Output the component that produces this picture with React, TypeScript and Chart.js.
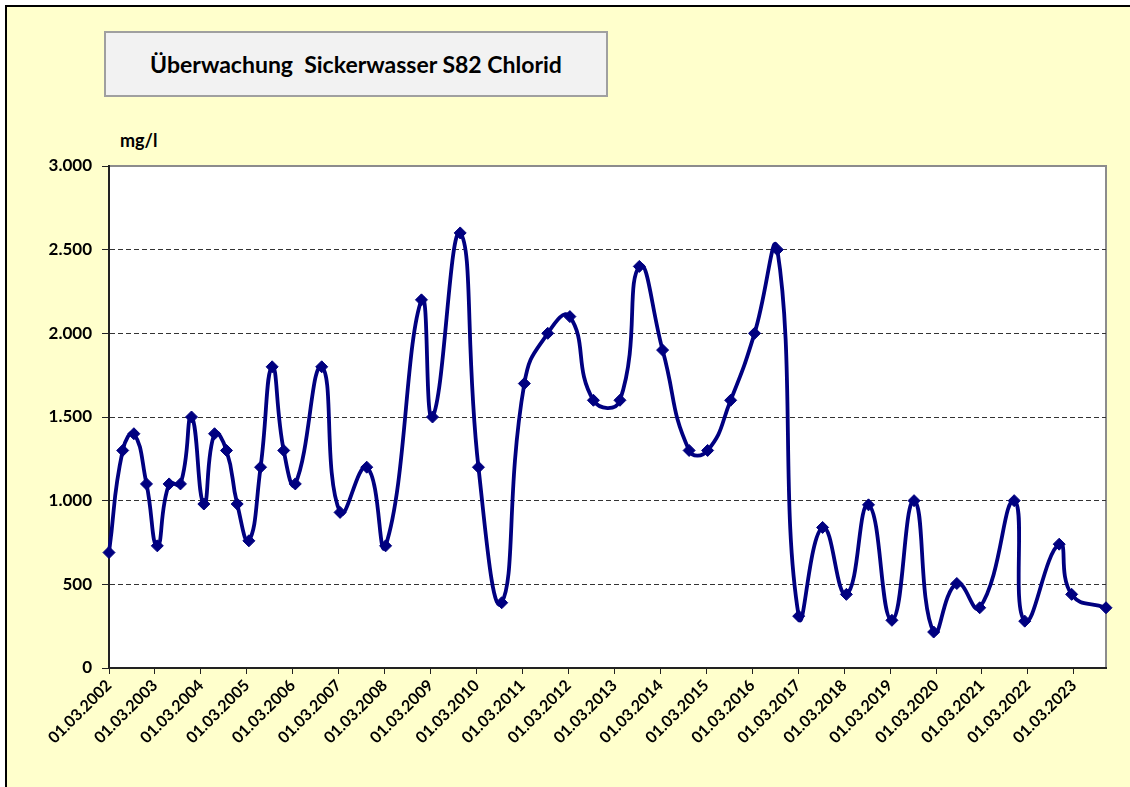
import React, { useEffect, useRef } from 'react';
import { Chart, registerables } from 'chart.js';

Chart.register(...registerables);

// ---- data ----
const sampleDates: string[] = [
  '01.03.2002', '18.06.2002', '15.09.2002', '24.12.2002',
  '20.03.2003', '22.06.2003', '20.09.2003', '17.12.2003',
  '24.03.2004', '17.06.2004', '20.09.2004', '14.12.2004',
  '17.03.2005', '18.06.2005', '18.09.2005', '19.12.2005',
  '21.03.2006', '17.10.2006', '12.03.2007', '10.10.2007',
  '08.03.2008', '18.12.2008', '16.03.2009', '22.10.2009',
  '16.03.2010', '17.09.2010', '16.03.2011', '18.09.2011',
  '12.03.2012', '15.09.2012', '14.04.2013', '15.09.2013',
  '19.03.2014', '16.10.2014', '12.03.2015', '11.09.2015',
  '19.03.2016', '16.09.2016', '05.03.2017', '11.09.2017',
  '19.03.2018', '11.09.2018', '16.03.2019', '08.09.2019',
  '11.02.2020', '13.08.2020', '11.02.2021', '12.11.2021',
  '04.02.2022', '05.11.2022', '12.02.2023', '12.11.2023',
];

const chlorideValues: number[] = [
  690, 1300, 1400, 1100,
  730, 1100, 1100, 1500,
  980, 1400, 1300, 980,
  760, 1200, 1800, 1300,
  1100, 1800, 930, 1200,
  730, 2200, 1500, 2600,
  1200, 390, 1700, 2000,
  2100, 1600, 1600, 2400,
  1900, 1300, 1300, 1600,
  2000, 2500, 310, 840,
  440, 975, 285, 1000,
  215, 505, 360, 1000,
  280, 740, 440, 360,
];

const xTickLabels: string[] = [
  '01.03.2002', '01.03.2003', '01.03.2004', '01.03.2005', '01.03.2006',
  '01.03.2007', '01.03.2008', '01.03.2009', '01.03.2010', '01.03.2011',
  '01.03.2012', '01.03.2013', '01.03.2014', '01.03.2015', '01.03.2016',
  '01.03.2017', '01.03.2018', '01.03.2019', '01.03.2020', '01.03.2021',
  '01.03.2022', '01.03.2023',
];

const yTickValues: number[] = [0, 500, 1000, 1500, 2000, 2500, 3000];

const titleText = 'Überwachung  Sickerwasser S82 Chlorid';
const unitText = 'mg/l';

// ---- helpers ----
const toDay = (s: string): number => {
  const [d, m, y] = s.split('.').map(Number);
  return Date.UTC(y, m - 1, d) / 86400000;
};
const dayToLabel = new Map<number, string>(xTickLabels.map((l) => [toDay(l), l]));
const fmtThousands = (v: number): string =>
  String(Math.round(v)).replace(/\B(?=(\d{3})+(?!\d))/g, '.');

const FONT = "Lato, 'Open Sans', 'DejaVu Sans', sans-serif";

const plotBackground = {
  id: 'plotBackground',
  beforeDraw(chart: any) {
    const { ctx, chartArea } = chart;
    if (!chartArea) return;
    ctx.save();
    ctx.fillStyle = '#ffffff';
    ctx.fillRect(chartArea.left, chartArea.top, chartArea.right - chartArea.left, chartArea.bottom - chartArea.top);
    ctx.strokeStyle = '#8c8c8c';
    ctx.lineWidth = 2;
    ctx.strokeRect(chartArea.left, chartArea.top, chartArea.right - chartArea.left, chartArea.bottom - chartArea.top);
    ctx.restore();
  },
};

export default function App() {
  const canvasRef = useRef<HTMLCanvasElement | null>(null);

  useEffect(() => {
    if (!canvasRef.current) return;
    const points = sampleDates.map((d, i) => ({ x: toDay(d), y: chlorideValues[i] }));
    const chart = new Chart(canvasRef.current, {
      type: 'line',
      data: {
        datasets: [
          {
            label: 'Chlorid',
            data: points,
            borderColor: '#000080',
            backgroundColor: '#000080',
            borderWidth: 3.8,
            tension: 0.5,
            clip: false,
            pointStyle: 'rectRot',
            pointRadius: 6,
            pointBorderWidth: 1,
            pointBackgroundColor: '#000080',
            pointBorderColor: '#000080',
            fill: false,
          },
        ],
      },
      options: {
        responsive: false,
        animation: false,
        events: [],
        layout: { padding: { left: 0, top: 166, right: 24, bottom: 0 } },
        plugins: {
          legend: { display: false },
          title: { display: false },
          tooltip: { enabled: false },
        },
        scales: {
          x: {
            type: 'linear',
            min: toDay(xTickLabels[0]),
            max: toDay(sampleDates[sampleDates.length - 1]),
            afterBuildTicks: (scale: any) => {
              scale.ticks = xTickLabels.map((l) => ({ value: toDay(l) }));
            },
            afterFit: (scale: any) => {
              scale.height = 119;
            },
            grid: {
              drawOnChartArea: false,
              drawTicks: true,
              tickLength: 6,
              tickColor: '#222',
              color: '#222',
            },
            border: { display: true, color: '#222', width: 2 },
            ticks: {
              autoSkip: false,
              minRotation: 45,
              maxRotation: 45,
              padding: 2,
              color: '#000',
              font: { family: FONT, size: 16, weight: 'bold' },
              callback: (v: any) => dayToLabel.get(Number(v)) ?? '',
            },
          },
          y: {
            type: 'linear',
            min: 0,
            max: 3000,
            afterBuildTicks: (scale: any) => {
              scale.ticks = yTickValues.map((v) => ({ value: v }));
            },
            afterFit: (scale: any) => {
              scale.width = 109;
            },
            grid: {
              drawOnChartArea: true,
              drawTicks: true,
              tickLength: 7,
              tickColor: '#222',
              color: (ctx: any) =>
                ctx.tick && (ctx.tick.value === 0 || ctx.tick.value === 3000) ? 'rgba(0,0,0,0)' : '#333',
              lineWidth: 1,
            },
            border: { display: true, color: '#222', width: 2, dash: [5, 3] },
            ticks: {
              padding: 10,
              color: '#000',
              font: { family: FONT, size: 17, weight: 'bold' },
              callback: (v: any) => fmtThousands(Number(v)),
            },
          },
        },
      },
      plugins: [plotBackground],
    } as any);
    return () => chart.destroy();
  }, []);

  return (
    <div
      style={{
        position: 'absolute',
        left: 0,
        top: 0,
        width: 1130,
        height: 787,
        overflow: 'hidden',
        background: '#ffffff',
        fontFamily: FONT,
      }}
    >
      <div
        style={{
          position: 'absolute',
          left: 5,
          top: 5,
          width: 1140,
          height: 800,
          background: '#FFFFCC',
          borderTop: '2px solid #000',
          borderLeft: '2px solid #000',
          boxSizing: 'border-box',
        }}
      />
      <div
        style={{
          position: 'absolute',
          left: 104,
          top: 31,
          width: 504,
          height: 66,
          boxSizing: 'border-box',
          background: '#F2F2F2',
          border: '2px solid #A0A0A0',
          display: 'flex',
          alignItems: 'center',
          justifyContent: 'center',
          fontWeight: 'bold',
          fontSize: 23,
          color: '#000',
          whiteSpace: 'pre',
        }}
      >
        {titleText}
      </div>
      <div
        style={{
          position: 'absolute',
          left: 120,
          top: 129,
          fontWeight: 'bold',
          fontSize: 18,
          color: '#000',
        }}
      >
        {unitText}
      </div>
      <canvas
        ref={canvasRef}
        width={1130}
        height={787}
        style={{ position: 'absolute', left: 0, top: 0, width: 1130, height: 787 }}
      />
    </div>
  );
}
